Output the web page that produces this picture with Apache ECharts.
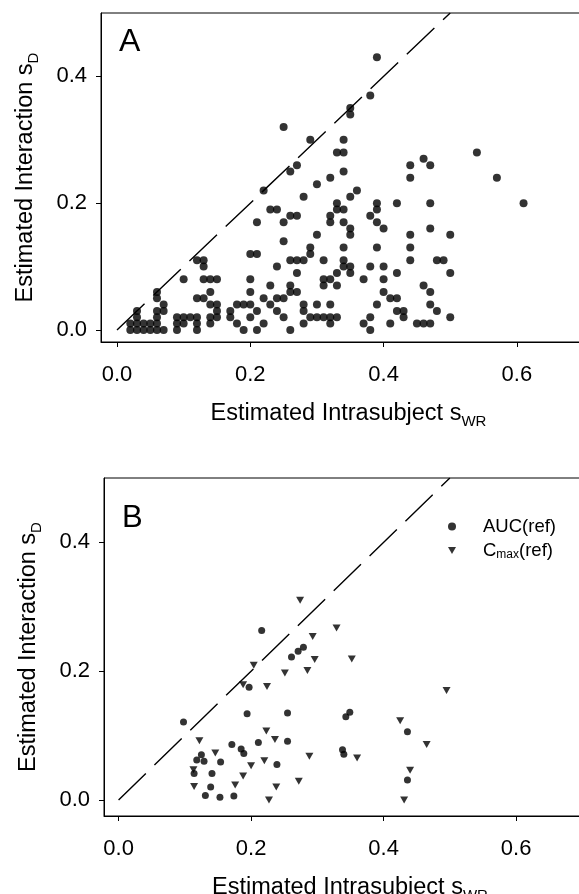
<!DOCTYPE html>
<html><head><meta charset="utf-8">
<script src="https://cdn.jsdelivr.net/npm/echarts@6/dist/echarts.min.js"></script>
<style>html,body{margin:0;padding:0;background:#fff}#c{width:579px;height:894px}</style>
</head><body><div id="c"></div>
<script>
const xTickValues = [0, 0.2, 0.4, 0.6];
const yTickValues = [0, 0.2, 0.4];
const identityLine = [[0, 0], [0.5, 0.5]];

// Panel A: [intrasubject sWR, interaction sD]
const panelAPoints = [
 [0.39,0.43],[0.38,0.37],[0.35,0.35],[0.35,0.34],[0.25,0.32],[0.29,0.30],[0.34,0.30],
 [0.33,0.28],[0.34,0.28],[0.54,0.28],[0.46,0.27],[0.47,0.26],[0.44,0.26],[0.44,0.24],
 [0.27,0.26],[0.26,0.25],[0.34,0.25],[0.32,0.24],[0.57,0.24],[0.30,0.23],[0.22,0.22],
 [0.36,0.22],[0.35,0.21],[0.28,0.21],[0.33,0.20],[0.33,0.19],[0.34,0.19],[0.39,0.20],
 [0.39,0.19],[0.42,0.20],[0.47,0.20],[0.61,0.20],[0.23,0.19],[0.24,0.19],[0.26,0.18],
 [0.27,0.18],[0.32,0.18],[0.32,0.17],[0.38,0.18],[0.39,0.17],[0.40,0.16],[0.34,0.17],
 [0.21,0.17],[0.25,0.17],[0.35,0.16],[0.35,0.15],[0.47,0.16],[0.30,0.15],[0.44,0.15],
 [0.50,0.15],[0.25,0.14],[0.29,0.13],[0.29,0.12],[0.34,0.13],[0.39,0.13],[0.44,0.13],
 [0.20,0.12],[0.21,0.12],
 [0.12,0.11],[0.13,0.11],[0.13,0.10],[0.26,0.11],[0.27,0.11],[0.28,0.11],[0.31,0.11],
 [0.34,0.11],[0.34,0.10],[0.35,0.10],[0.35,0.09],[0.44,0.11],[0.48,0.11],[0.49,0.11],
 [0.24,0.10],[0.38,0.10],[0.40,0.10],[0.27,0.09],[0.33,0.09],[0.42,0.09],[0.50,0.09],
 [0.10,0.08],[0.13,0.08],[0.14,0.08],[0.15,0.08],[0.20,0.08],[0.31,0.08],[0.32,0.08],
 [0.31,0.07],[0.33,0.07],[0.37,0.08],[0.40,0.08],[0.23,0.07],[0.26,0.07],[0.27,0.06],
 [0.26,0.06],[0.46,0.07],[0.47,0.06],[0.06,0.06],[0.06,0.05],[0.14,0.06],[0.20,0.06],
 [0.40,0.06],[0.12,0.05],[0.13,0.05],[0.22,0.05],[0.24,0.05],[0.25,0.05],[0.41,0.05],
 [0.42,0.05],
 [0.07,0.04],[0.14,0.04],[0.15,0.04],[0.18,0.04],[0.19,0.04],[0.20,0.04],[0.23,0.04],
 [0.28,0.04],[0.30,0.04],[0.32,0.04],[0.39,0.04],[0.47,0.04],
 [0.03,0.03],[0.06,0.03],[0.07,0.03],[0.15,0.03],[0.17,0.03],[0.21,0.03],[0.24,0.03],
 [0.28,0.03],[0.42,0.03],[0.43,0.03],[0.48,0.03],
 [0.03,0.02],[0.06,0.02],[0.09,0.02],[0.10,0.02],[0.11,0.02],[0.12,0.02],[0.14,0.02],
 [0.15,0.02],[0.17,0.02],[0.20,0.02],[0.25,0.02],[0.29,0.02],[0.30,0.02],[0.31,0.02],
 [0.32,0.02],[0.33,0.02],[0.38,0.02],[0.43,0.02],[0.50,0.02],
 [0.02,0.01],[0.03,0.01],[0.04,0.01],[0.05,0.01],[0.06,0.01],[0.09,0.01],[0.10,0.01],
 [0.12,0.01],[0.14,0.01],[0.18,0.01],[0.22,0.01],[0.28,0.01],[0.32,0.01],[0.37,0.01],
 [0.41,0.01],[0.45,0.01],[0.46,0.01],[0.47,0.01],
 [0.02,0.00],[0.03,0.00],[0.04,0.00],[0.05,0.00],[0.06,0.00],[0.07,0.00],[0.09,0.00],
 [0.12,0.00],[0.19,0.00],[0.21,0.00],[0.26,0.00],[0.38,0.00]
];

// Panel B
const aucPoints = [
 [0.098,0.121],[0.216,0.263],[0.261,0.222],[0.271,0.231],[0.279,0.237],[0.197,0.175],
 [0.194,0.134],[0.255,0.135],[0.171,0.086],[0.185,0.079],[0.189,0.072],[0.211,0.089],
 [0.255,0.091],[0.125,0.070],[0.118,0.062],[0.129,0.060],[0.154,0.059],[0.114,0.041],
 [0.141,0.041],[0.239,0.055],[0.139,0.020],[0.131,0.007],[0.153,0.004],[0.174,0.006],
 [0.343,0.129],[0.349,0.136],[0.436,0.106],[0.338,0.078],[0.340,0.071],[0.436,0.031]
];
const cmaxPoints = [
 [0.274,0.310],[0.329,0.267],[0.293,0.254],[0.296,0.218],[0.285,0.201],[0.352,0.219],
 [0.204,0.209],[0.251,0.197],[0.188,0.179],[0.224,0.176],[0.495,0.170],[0.425,0.123],
 [0.465,0.086],[0.360,0.065],[0.288,0.068],[0.440,0.046],[0.431,0.000],[0.272,0.029],
 [0.122,0.092],[0.223,0.107],[0.236,0.094],[0.146,0.073],[0.200,0.053],[0.220,0.061],
 [0.113,0.047],[0.188,0.037],[0.114,0.021],[0.176,0.023],[0.238,0.020],[0.227,0.000]
];

const FONT = "'Liberation Sans', Arial, Helvetica, sans-serif";
const TRI = 'path://M0,0L10,0L5,9Z';

function xAx(grid, min, max) {
  return {
    gridIndex: grid, type: 'value', min: min, max: max,
    name: '{n|Estimated Intrasubject s}{s|WR}', nameLocation: 'middle', nameGap: 57,
    nameTextStyle: { rich: {
      n: { fontFamily: FONT, fontSize: 23.5, color: '#000', lineHeight: 30, verticalAlign: 'middle' },
      s: { fontFamily: FONT, fontSize: 15, color: '#000', lineHeight: 15, verticalAlign: 'bottom' } } },
    axisLine: { show: true, onZero: false, lineStyle: { color: '#000', width: 1 } },
    axisTick: { show: true, inside: false, length: 5, customValues: xTickValues, lineStyle: { color: '#000' } },
    axisLabel: { customValues: xTickValues, margin: 22, fontFamily: FONT, fontSize: 22, color: '#000',
                 formatter: v => v.toFixed(1) },
    splitLine: { show: false }
  };
}
function yAx(grid, min, max) {
  return {
    gridIndex: grid, type: 'value', min: min, max: max,
    name: '{n|Estimated Interaction s}{s|D}', nameLocation: 'middle', nameGap: 60, nameRotate: 90,
    nameTextStyle: { rich: {
      n: { fontFamily: FONT, fontSize: 23.5, color: '#000', lineHeight: 30, verticalAlign: 'middle' },
      s: { fontFamily: FONT, fontSize: 15, color: '#000', lineHeight: 15, verticalAlign: 'bottom' } } },
    axisLine: { show: true, onZero: false, lineStyle: { color: '#000', width: 1 } },
    axisTick: { show: true, inside: false, length: 5, customValues: yTickValues, lineStyle: { color: '#000' } },
    axisLabel: { customValues: yTickValues, margin: 14, fontFamily: FONT, fontSize: 22, color: '#000',
                 formatter: v => v.toFixed(1) },
    splitLine: { show: false }
  };
}

const chart = echarts.init(document.getElementById('c'), null, { renderer: 'canvas' });
chart.setOption({
  animation: false,
  backgroundColor: '#fff',
  title: [
    { text: 'A', left: 119, top: 26, padding: 0, textStyle: { fontFamily: FONT, fontSize: 32, fontWeight: 'normal', color: '#000' } },
    { text: 'B', left: 122, top: 503, padding: 0, textStyle: { fontFamily: FONT, fontSize: 31, fontWeight: 'normal', color: '#000' } }
  ],
  grid: [
    { left: 101, top: 13, width: 495, height: 329, show: true, borderColor: '#000', borderWidth: 1,
      outerBoundsMode: 'none', containLabel: false },
    { left: 104, top: 478, width: 492, height: 338, show: true, borderColor: '#000', borderWidth: 1,
      outerBoundsMode: 'none', containLabel: false }
  ],
  xAxis: [ xAx(0, -0.024, 0.7187), xAx(1, -0.022, 0.7206) ],
  yAxis: [ yAx(0, -0.019, 0.5), yAx(1, -0.025, 0.5) ],
  legend: {
    left: 443, top: 512, orient: 'vertical', itemWidth: 8, itemHeight: 8, itemGap: 5,
    data: [ { name: 'AUC(ref)', icon: 'circle' }, { name: 'C_max(ref)', icon: TRI } ],
    formatter: n => n === 'C_max(ref)' ? '{t|C}{s|max}{t|(ref)}' : '{t|AUC(ref)}',
    textStyle: { padding: [0, 0, 0, 22], rich: {
      t: { fontFamily: FONT, fontSize: 18.5, color: '#000', lineHeight: 20, verticalAlign: 'middle' },
      s: { fontFamily: FONT, fontSize: 12, color: '#000', lineHeight: 12, verticalAlign: 'bottom' } } }
  },
  series: [
    { type: 'line', xAxisIndex: 0, yAxisIndex: 0, data: identityLine, symbol: 'none', silent: true,
      lineStyle: { color: '#000', width: 1.4, type: [38, 12] } },
    { type: 'scatter', name: 'panelA', xAxisIndex: 0, yAxisIndex: 0, data: panelAPoints,
      symbol: 'circle', symbolSize: 8, itemStyle: { color: '#000' } },
    { type: 'line', xAxisIndex: 1, yAxisIndex: 1, data: identityLine, symbol: 'none', silent: true,
      lineStyle: { color: '#000', width: 1.4, type: [38, 12] } },
    { type: 'scatter', name: 'AUC(ref)', xAxisIndex: 1, yAxisIndex: 1, data: aucPoints,
      symbol: 'circle', symbolSize: 7, itemStyle: { color: '#000' } },
    { type: 'scatter', name: 'C_max(ref)', xAxisIndex: 1, yAxisIndex: 1, data: cmaxPoints,
      symbol: TRI, symbolSize: [8, 7], itemStyle: { color: '#000' } }
  ]
});
</script></body></html>
